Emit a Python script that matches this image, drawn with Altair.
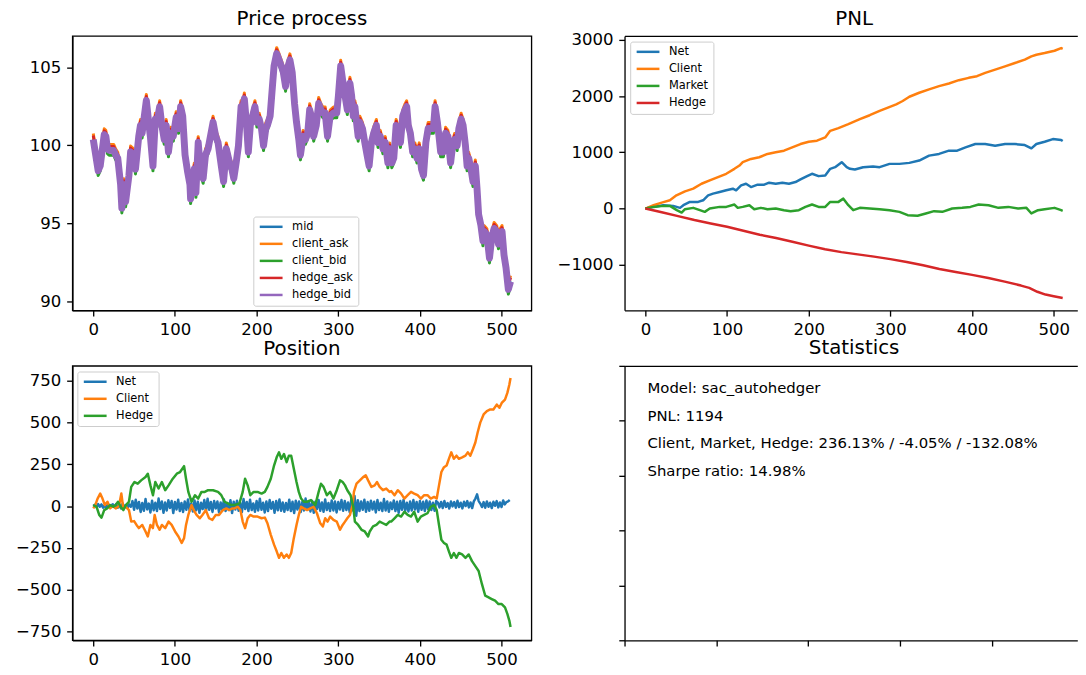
import altair as alt
import pandas as pd

FONT = "DejaVu Sans"
BLUE, ORANGE, GREEN, RED, PURPLE = "#1f77b4", "#ff7f0e", "#2ca02c", "#d62728", "#9467bd"

# ---------------- Price process ----------------
price_t = [0, 6, 8.5, 13.4, 15.4, 17.4, 19.4, 25, 27.5, 30, 33.5, 35, 37.6, 39.6, 43.7, 45.7, 49.7, 51.7,
           55.7, 57.8, 59.8, 65, 67.9, 69.9, 73.1, 76, 78, 81.3, 84, 86.9, 89.3, 92.1, 95, 98, 101.5,
           104.5, 107, 109.5, 112.4, 115.6, 118.4, 119.2, 121.7, 123.7, 125.7, 128.5, 131.3, 134.6,
           137.4, 140.6, 146.7, 150, 152.8, 156.8, 159.6, 162.9, 166.9, 169.7, 172.1, 175, 177.8, 181,
           183, 185, 187.5, 189.9, 192.3, 195.1, 198, 200.4, 203.2, 206, 208.5, 211.3, 213.3, 216.6,
           219.4, 221.4, 224.6, 227.5, 230.3, 232.7, 235.5, 237.6, 240.8, 243.6, 246.5, 248.9, 251.7,
           253.7, 257, 259.8, 262.6, 265, 267.9, 269.9, 273.1, 276, 278.8, 281.2, 284, 286.9, 290.1,
           294.1, 298.2, 300.2, 303, 305.4, 308.3, 311.1, 314.3, 316.4, 318.4, 320.4, 322.4, 324.4,
           326.5, 329.7, 332.5, 335.3, 337.8, 340.6, 343.4, 346.7, 348.7, 351.5, 354.7, 357.6, 360.8,
           363, 365.6, 368, 370.9, 373.7, 376.2, 379, 381.8, 383.8, 385.8, 388.3, 391.1, 393.9, 396.4,
           399.2, 402, 404.4, 407.3, 410.1, 413.3, 416.5, 418.6, 421.4, 423.4, 425.4, 428.7, 431.5,
           434.3, 437.6, 439.6, 442.4, 445.6, 447.7, 450.5, 452.9, 455.8, 457.8, 459.8, 462.6, 465,
           467.9, 469.9, 471.9, 474.7, 477.2, 478.8, 482, 485.2, 488, 490.9, 494.1, 496.2, 498.2,
           500.6, 503, 505.4, 508.3, 511]
price_mid = [100.4, 98.4, 98.7, 100.7, 100.6, 99.8, 99.7, 99.7, 99.4, 99.2, 97.5, 96.0, 97.5, 96.4, 98.1,
             99.6, 99.4, 98.5, 100.6, 101.3, 100.8, 102.9, 101.5, 100.6, 98.7, 101.7, 101.5, 102.5, 101.3,
             100.4, 101.3, 99.6, 100.8, 100.6, 101.8, 101.1, 102.5, 101.9, 99.4, 98.3, 97.5, 96.6, 97.5,
             98.5, 97.0, 100.2, 98.5, 97.9, 99.4, 99.8, 101.5, 100.6, 100.2, 98.7, 97.7, 99.8, 98.9, 98.5,
             97.9, 98.9, 100.0, 102.5, 102.3, 103.0, 101.5, 99.6, 101.3, 101.9, 102.5, 101.5, 101.7, 101.1,
             100.0, 101.1, 101.3, 101.9, 103.8, 105.1, 105.9, 105.5, 105.1, 104.7, 103.8, 104.9, 105.5,
             104.7, 102.7, 101.5, 100.4, 99.4, 100.6, 100.4, 100.8, 102.3, 101.7, 100.6, 101.3, 102.7,
             102.3, 102.1, 102.1, 100.6, 101.9, 102.1, 102.1, 103.2, 105.1, 104.2, 103.2, 102.3, 104.0,
             103.2, 101.9, 102.5, 101.5, 100.6, 101.5, 101.1, 100.2, 99.4, 98.7, 100.2, 100.8, 101.3,
             100.2, 100.6, 99.8, 100.2, 98.9, 99.8, 98.9, 99.2, 101.3, 100.8, 100.2, 101.9, 102.3, 102.5,
             101.3, 100.8, 99.6, 99.8, 99.2, 99.8, 98.5, 98.1, 100.2, 101.1, 101.1, 101.1, 102.5, 101.5,
             100.6, 99.6, 99.6, 100.8, 100.6, 98.9, 99.8, 100.4, 100.0, 101.1, 101.7, 101.3, 100.0, 98.7,
             99.2, 98.5, 97.7, 98.7, 97.3, 95.6, 94.9, 93.9, 94.5, 94.3, 92.8, 94.1, 94.7, 94.5, 93.7,
             94.3, 94.5, 93.0, 92.2, 90.8, 91.3]
price_names = ["mid", "client_ask", "client_bid", "hedge_ask", "hedge_bid"]
price_offsets = [0.0, 0.36, -0.33, 0.23, -0.02]   # quote offsets from mid
price_colors = [BLUE, ORANGE, GREEN, RED, PURPLE]
price_widths = [2.5, 3, 3, 3, 7]

# ---------------- PNL ----------------
pnl_net_t = [0, 10, 22, 34, 42.4, 46.5, 54.5, 64.6, 70.7, 76.8, 82.8, 90.9, 99, 107.1, 111.1, 117.2,
             123.2, 129.3, 137.4, 145.5, 151.5, 159.6, 167.7, 175.8, 183.8, 189.9, 198, 204, 212.1,
             220.2, 226.3, 232.3, 240.4, 246.5, 250.5, 256.5, 266.6, 278.8, 286.8, 299, 311.1, 323.2,
             335.3, 347.4, 359.6, 371.7, 381.8, 392, 404, 416.1, 428.3, 440.4, 452.5, 464.6, 472.7,
             478.8, 488.9, 499, 509.1, 511]
pnl_net = [0, 29, 59, 47, 12, 59, 118, 118, 147, 235, 265, 294, 324, 353, 324, 412, 441, 382, 424, 424,
           459, 441, 459, 441, 471, 518, 576, 618, 576, 588, 706, 735, 824, 735, 706, 694, 735, 747, 735,
           794, 794, 812, 853, 941, 971, 1029, 1029, 1088, 1147, 1147, 1118, 1147, 1147, 1129, 1070,
           1147, 1188, 1235, 1218, 1200]
pnl_client_t = [0, 10, 20, 30, 38, 48.5, 58.6, 68.7, 78.8, 88.9, 99, 109, 115.2, 119.2, 129.3, 139.4,
                149.5, 159.6, 169.7, 179.8, 189.9, 200, 210.1, 220.2, 226.3, 236.4, 248.5, 262.6, 274.7,
                286.8, 297, 307.1, 315.1, 323.2, 335.3, 347.4, 359.6, 371.7, 383.8, 395.9, 406, 416.1,
                428.3, 440.4, 452.5, 464.6, 472.7, 478.8, 488.9, 501, 509.1, 511]
pnl_client = [0, 59, 106, 147, 235, 306, 353, 441, 500, 559, 618, 706, 765, 824, 882, 912, 971, 1000,
              1029, 1088, 1147, 1188, 1206, 1265, 1382, 1430, 1500, 1588, 1659, 1735, 1794, 1853, 1912,
              1988, 2059, 2118, 2176, 2224, 2282, 2324, 2353, 2412, 2470, 2529, 2588, 2647, 2706, 2735,
              2765, 2806, 2853, 2840]
pnl_market_t = [0, 10, 22, 30, 38.4, 44.4, 48.5, 58.6, 66.7, 72.7, 78.8, 90.9, 99, 109, 113.1, 119.2,
                127.3, 133.3, 141.4, 149.5, 159.6, 169.7, 177.8, 187.9, 196, 204, 212.1, 220.2, 226.3,
                236.4, 242.4, 248.5, 254.5, 262.6, 274.7, 286.8, 299, 311.1, 321.2, 333.3, 343.4, 353.5,
                363.6, 375.7, 387.9, 398, 408.1, 420.2, 432.3, 444.4, 456.6, 466.6, 472.7, 480.8, 488.9,
                501, 509.1, 511]
pnl_market = [0, 29, 47, 47, -29, -71, -12, 12, -29, -59, 0, 29, 29, 71, 12, 29, 59, -12, 12, -12, 0,
              -29, -47, -29, 29, 71, 29, 29, 118, 118, 176, 59, -29, 12, 0, -12, -29, -59, -118, -129,
              -88, -47, -59, 0, 12, 29, 71, 59, 12, 29, 0, 12, -88, -29, -12, 12, -29, -40]
pnl_hedge_t = [0, 20, 40, 60, 80, 100, 120, 140, 160, 180, 200, 220, 240, 260, 280, 300, 320, 340, 360,
               380, 400, 420, 440, 460, 470, 480, 490, 500, 511]
pnl_hedge = [0, -65, -135, -205, -265, -325, -395, -465, -525, -590, -660, -725, -775, -815, -855, -900,
             -950, -1010, -1075, -1130, -1180, -1235, -1300, -1370, -1410, -1480, -1530, -1560, -1590]
pnl_names = ["Net", "Client", "Market", "Hedge"]

# ---------------- Position ----------------
# net position, one reading every 2 steps (a dense band around zero)
pos_net = [0, 8, -6, 12, -4, 10, -10, 6, -12, 14, -8, 4, 10, -6, 12, -10, 8, -14, 16, -8, 6, -12, 10, -4,
           30, -22, 38, -15, 25, -35, 18, -28, 42, -20,
           15, -38, 32, -25, 20, -30, 45, -18, 28, -40,
           22, -26, 35, -12, 30, -42, 25, -20, 38, -30,
           18, -35, 28, -22, 40, -28, 15, -32, 34, -25,
           26, -40, 20, -18, 36, -30, 44, -22, 24, -35,
           30, -15, 28, -38, 22, -26, 40, -30, 18, -24,
           35, -42, 26, -20, 32, -28, 20, -36, 42, -18,
           25, -30, 38, -24, 16, -34, 30, -26, 44, -22,
           20, -38, 28, -30, 36, -16, 24, -40, 30, -25,
           40, -28, 22, -34, 18, -24, 38, -30, 26, -42,
           32, -20, 28, -36, 24, -26, 45, -22, 20, -32,
           30, -40, 26, -18, 36, -28, 22, -34, 40, -24,
           18, -30, 34, -26, 28, -38, 24, -20, 36, -28,
           30, -24, 22, -36, 40, -26, 60, -58, 35, -30,
           28, -22, 38, -34, 24, -28, 32, -20, 26, -38,
           36, -24, 20, -30, 42, -26, 28, -34, 22, -18,
           34, -30, 26, -40, 30, -22, 38, -28, 20, -32,
           28, -26, 36, -20, 24, -34, 30, -22,
           26, -30, 34, -18, 28, -24, 20, -28, 30,
           20, -8, 25, -12, 30, -5, 18, -15, 28, -2,
           24, -10, 32, -6, 20, -14, 26, 0, 30, -8,
           22, -12, 28, 45, 70, 30, 15, -6, 24, -10,
           28, -4, 20, -12, 26, 2, 30, -8, 22, -6,
           34, 10, 24, 28, 36]
pos_net_t = list(range(0, 2 * len(pos_net), 2))
pos_client_t = [0, 2, 5.3, 8.5, 11.3, 14.2, 17.4, 20.6, 24, 27.5, 31.5, 34.4, 36.8, 40, 43.7, 46.5, 50, 53,
                55.8, 60, 64, 66.8, 70, 73, 75.2, 78, 81.3, 84, 88.1, 92.2, 96, 100.2, 104.3, 108.3,
                111.2, 113.6, 116.4, 120.4, 123, 126.5, 130.5, 133.7, 137.8, 141.8, 145.9, 150, 154,
                158.8, 162.9, 166.9, 170, 172.9, 177, 180.2, 183, 185.9, 189.1, 192.3, 196.4, 201.2,
                206.1, 210.1, 213.3, 217.4, 221.4, 224.6, 227.5, 230.3, 233.5, 236.8, 239.6, 242.4,
                245.6, 248.9, 251.7, 254.5, 257.8, 261.8, 265.8, 269.9, 273.9, 278, 281.2, 284, 286.9,
                290.1, 294.1, 298.2, 302.2, 305.4, 308.3, 311.1, 314.3, 317.6, 319.2, 322.4, 326.5,
                330.5, 333.7, 336.6, 340.6, 344.6, 347.5, 350.7, 354.7, 358.8, 362.8, 364.8, 368.9,
                372.9, 377, 381, 385, 389.1, 393, 397.2, 401.2, 405.2, 409.3, 413.3, 417.4, 420.6,
                423.4, 426.3, 429.5, 432.7, 435.5, 438.4, 441.6, 444.8, 447.7, 451.7, 455.8, 458.6,
                461.8, 465, 467.9, 470.7, 473.9, 478, 482, 486.1, 490, 494.1, 497.4, 500.2, 504.2,
                507.1, 509.5, 511]
pos_client = [-14, 0, 45, 75, 45, 6, 26, -14, 0, -14, 0, 75, -14, -5, -24, -93, -90, -113, -132, -113,
              -152, -182, -113, -132, -53, -113, -142, -113, -132, -93, -113, -152, -182, -221, -192,
              -113, -53, 6, -24, -53, -73, -53, -24, -73, -83, -53, -53, -24, -14, -24, -14, -14, -4,
              -24, -93, -132, -73, -53, -63, -63, -73, -69, -103, -172, -231, -271, -310, -281, -310,
              -290, -310, -281, -192, -113, -53, -4, -14, -24, -14, -4, -43, -103, -122, -73, -93, -63,
              -83, -93, -142, -113, -93, -73, -53, 6, 85, 134, 154, 174, 184, 154, 115, 124, 144, 115,
              95, 105, 85, 90, 65, 95, 75, 45, 65, 85, 75, 65, 45, 65, 65, 45, 55, 45, 124, 204, 233,
              243, 283, 322, 283, 302, 283, 292, 302, 322, 302, 342, 381, 441, 500, 549, 569, 579, 579,
              608, 589, 618, 638, 678, 727, 767]
pos_hedge_t = [0, 4, 7.3, 10.1, 13.4, 17, 20.6, 24.6, 27.5, 30.3, 33.5, 36.8, 40, 43.7, 46.5, 50.5, 54.5,
               58.6, 64, 66.8, 70, 73.1, 76, 80, 84, 88.1, 92.2, 97.4, 102.3, 106.3, 111.2, 113.6,
               116.4, 120.4, 124.5, 128.5, 132.5, 136.6, 140.6, 146.7, 152.8, 156.8, 160.8, 164.8,
               168.9, 172.9, 179, 183, 185.9, 189.1, 192.3, 196.4, 201.2, 206.1, 210.1, 213.3, 217.4,
               221.4, 224.6, 227.5, 230.3, 233.5, 236.8, 239.6, 242.4, 245.6, 248.9, 251.7, 254.5,
               257.8, 261.8, 266.6, 271.9, 276, 278.8, 282, 286.1, 290.1, 294.1, 298.2, 302.2, 305.4,
               308.3, 311.1, 315.1, 318.4, 320.4, 324.4, 328.5, 332.5, 336.6, 338.6, 342.6, 346.7,
               350.7, 354.7, 358.8, 362.8, 364.8, 368.9, 372.9, 377, 381, 385, 389.1, 393, 397.2, 401.2,
               405.2, 409.3, 413.3, 417.4, 420.6, 423.4, 426.3, 429.5, 432.7, 435.5, 438.4, 441.6,
               444.8, 447.7, 451.7, 455.8, 459.8, 463.8, 467.9, 471.9, 476, 480, 484.1, 488, 492.1,
               496.2, 500.2, 504.2, 507.1, 509.5, 511]
pos_hedge = [6, -4, -53, -69, -24, -14, 6, -4, 6, 26, -4, -24, 6, 26, 115, 144, 134, 154, 174, 194, 124,
             65, 144, 105, 144, 95, 124, 164, 194, 204, 239, 164, 85, 26, 65, 45, 85, 85, 95, 95, 85,
             65, 26, 16, 6, 6, 16, 85, 164, 124, 65, 85, 85, 75, 85, 115, 164, 243, 292, 322, 283, 312,
             263, 302, 302, 223, 144, 85, 45, 26, 26, 36, 6, 85, 134, 115, 65, 85, 45, 95, 154, 144,
             124, 95, 65, -4, -93, -113, -142, -152, -182, -152, -122, -113, -93, -103, -113, -93, -93,
             -73, -53, -63, -34, -53, -63, -34, -93, -63, -53, -43, -4, 6, -24, -113, -202, -221, -231,
             -271, -310, -281, -310, -281, -290, -310, -290, -330, -360, -389, -468, -537, -547, -557,
             -567, -587, -587, -607, -646, -686, -725]
pos_names = ["Net", "Client", "Hedge"]

# ---------------- Statistics ----------------
stats_lines = ["Model: sac_autohedger", "PNL: 1194",
               "Client, Market, Hedge: 236.13% / -4.05% / -132.08%", "Sharpe ratio: 14.98%"]
stats_x = [0.05, 0.05, 0.05, 0.05]
stats_y = [0.9, 0.8, 0.7, 0.6]

# ---------------- build tables ----------------
price_df = pd.concat([pd.DataFrame({"t": price_t, "value": [m + off for m in price_mid], "series": n})
                      for n, off in zip(price_names, price_offsets)])
pnl_df = pd.concat([pd.DataFrame({"t": t, "value": v, "series": n}) for t, v, n in
                    [(pnl_net_t, pnl_net, "Net"), (pnl_client_t, pnl_client, "Client"),
                     (pnl_market_t, pnl_market, "Market"), (pnl_hedge_t, pnl_hedge, "Hedge")]])
pos_df = pd.concat([pd.DataFrame({"t": t, "value": v, "series": n}) for t, v, n in
                    [(pos_net_t, pos_net, "Net"), (pos_client_t, pos_client, "Client"),
                     (pos_hedge_t, pos_hedge, "Hedge")]])
stats_df = pd.DataFrame({"x": stats_x, "y": stats_y, "text": stats_lines})

W_L, W_R, H = 463.3, 457, 277
XDOM_L = [-25.55, 536.55]
XDOM_R = [-25.55, -25.55 + W_R * (562.1 / W_L)]

AX = dict(grid=False, domain=True, domainColor="black", domainWidth=1.33, ticks=True, tickColor="black",
          tickWidth=1.33, tickSize=5.8, labelPadding=5.8, labelFont=FONT, labelFontSize=16.7,
          labelColor="black", labelFlush=False, labelOverlap=False, title=None, format="d")
TOP_AX = alt.Axis(orient="top", labels=False, ticks=False, domain=True, domainColor="black",
                  domainWidth=1.33, grid=False, title=None)


def legend(x, y):
    # horizontal line swatch, ~23px long, starting at the entry's left edge
    return alt.Legend(title=None, orient="none", legendX=x, legendY=y, symbolType="M-1,0H5",
                      symbolSize=58.8, symbolStrokeWidth=2.5, labelFont=FONT, labelFontSize=11.5,
                      labelColor="black", labelOffset=23, padding=4.6, rowPadding=4.2,
                      strokeColor="#cccccc", fillColor="rgba(255,255,255,0.8)", cornerRadius=2.3,
                      labelLimit=300)


def line_panel(df, names, colors, widths, xdom, ydom, yticks, leg, top_border=False):
    xs = alt.Scale(domain=xdom, nice=False, zero=False)
    ys = alt.Scale(domain=ydom, nice=False, zero=False)
    cs = alt.Scale(domain=names, range=colors)
    xax = alt.Axis(values=[0, 100, 200, 300, 400, 500], **AX)
    yax = alt.Axis(values=yticks, **AX)
    layers = []
    for n, w in zip(names, widths):
        layers.append(
            alt.Chart(df).transform_filter(alt.datum.series == n)
            .mark_line(strokeWidth=w, strokeJoin="round", clip=True)
            .encode(x=alt.X("t:Q", scale=xs, axis=xax),
                    y=alt.Y("value:Q", scale=ys, axis=yax),
                    color=alt.Color("series:N", scale=cs, legend=leg)))
    inner = alt.layer(*layers)
    if top_border:
        border = alt.Chart(df).mark_point(opacity=0, clip=True).encode(
            x=alt.X("t:Q", scale=xs, axis=TOP_AX),
            y=alt.Y("value:Q", scale=ys, axis=yax))
        return alt.layer(inner, border).resolve_axis(x="independent")
    return inner


price = line_panel(price_df, price_names, price_colors, price_widths, XDOM_L, [89.43, 107.01],
                   [90, 95, 100, 105], legend(182.6, 182.3)).properties(
    width=W_L, height=H, title=alt.Title("Price process"))

pnl = line_panel(pnl_df, pnl_names, [BLUE, ORANGE, GREEN, RED], [2.5] * 4, XDOM_R, [-1811, 3069],
                 [-1000, 0, 1000, 2000, 3000], legend(5.7, 5.7), top_border=True).properties(
    width=W_R, height=H, title=alt.Title("PNL", dx=3.2, dy=4),
    view=alt.ViewBackground(strokeOpacity=0))

position = line_panel(pos_df, pos_names, [BLUE, ORANGE, GREEN], [2.5] * 3, XDOM_L, [-804, 840],
                      [-750, -500, -250, 0, 250, 500, 750], legend(5, 5.7)).properties(
    width=W_L, height=H, title=alt.Title("Position"))

sx = alt.Scale(domain=[0, W_R / W_L], nice=False, zero=False)
sy = alt.Scale(domain=[0, 1], nice=False, zero=False)
stats_yax = alt.Axis(values=[0, 0.2, 0.4, 0.6, 0.8, 1.0], **{**AX, "labels": False, "format": ".1f"})
stats_xax = alt.Axis(values=[0, 0.2, 0.4, 0.6, 0.8], **{**AX, "labels": False, "format": ".1f"})
stats_text = alt.Chart(stats_df).mark_text(align="left", baseline="alphabetic", font=FONT, fontSize=15,
                                           color="black").encode(
    x=alt.X("x:Q", scale=sx, axis=stats_xax),
    y=alt.Y("y:Q", scale=sy, axis=stats_yax),
    text="text:N")
stats_top = alt.Chart(stats_df).mark_point(opacity=0).encode(
    x=alt.X("x:Q", scale=sx, axis=TOP_AX),
    y=alt.Y("y:Q", scale=sy, axis=stats_yax))
stats = alt.layer(stats_text, stats_top).resolve_axis(x="independent").properties(
    width=W_R, height=H, title=alt.Title("Statistics", dx=3.2), view=alt.ViewBackground(strokeOpacity=0))

RES = dict(color="independent", x="independent", y="independent")
chart = alt.concat(price, pnl, position, stats, columns=2, spacing={"row": 56, "column": 93.3},
                   bounds="flush").resolve_scale(**RES).properties(
    padding={"left": 6, "top": -2.9, "right": 0, "bottom": 0}, background="white"
).configure_view(stroke="black", strokeWidth=1.33).configure_title(
    font=FONT, fontSize=20, fontWeight="normal", color="black", anchor="middle", frame="group",
    baseline="alphabetic", offset=6.9)

chart.save("out.html", embed_options={"renderer": "svg", "actions": False})
